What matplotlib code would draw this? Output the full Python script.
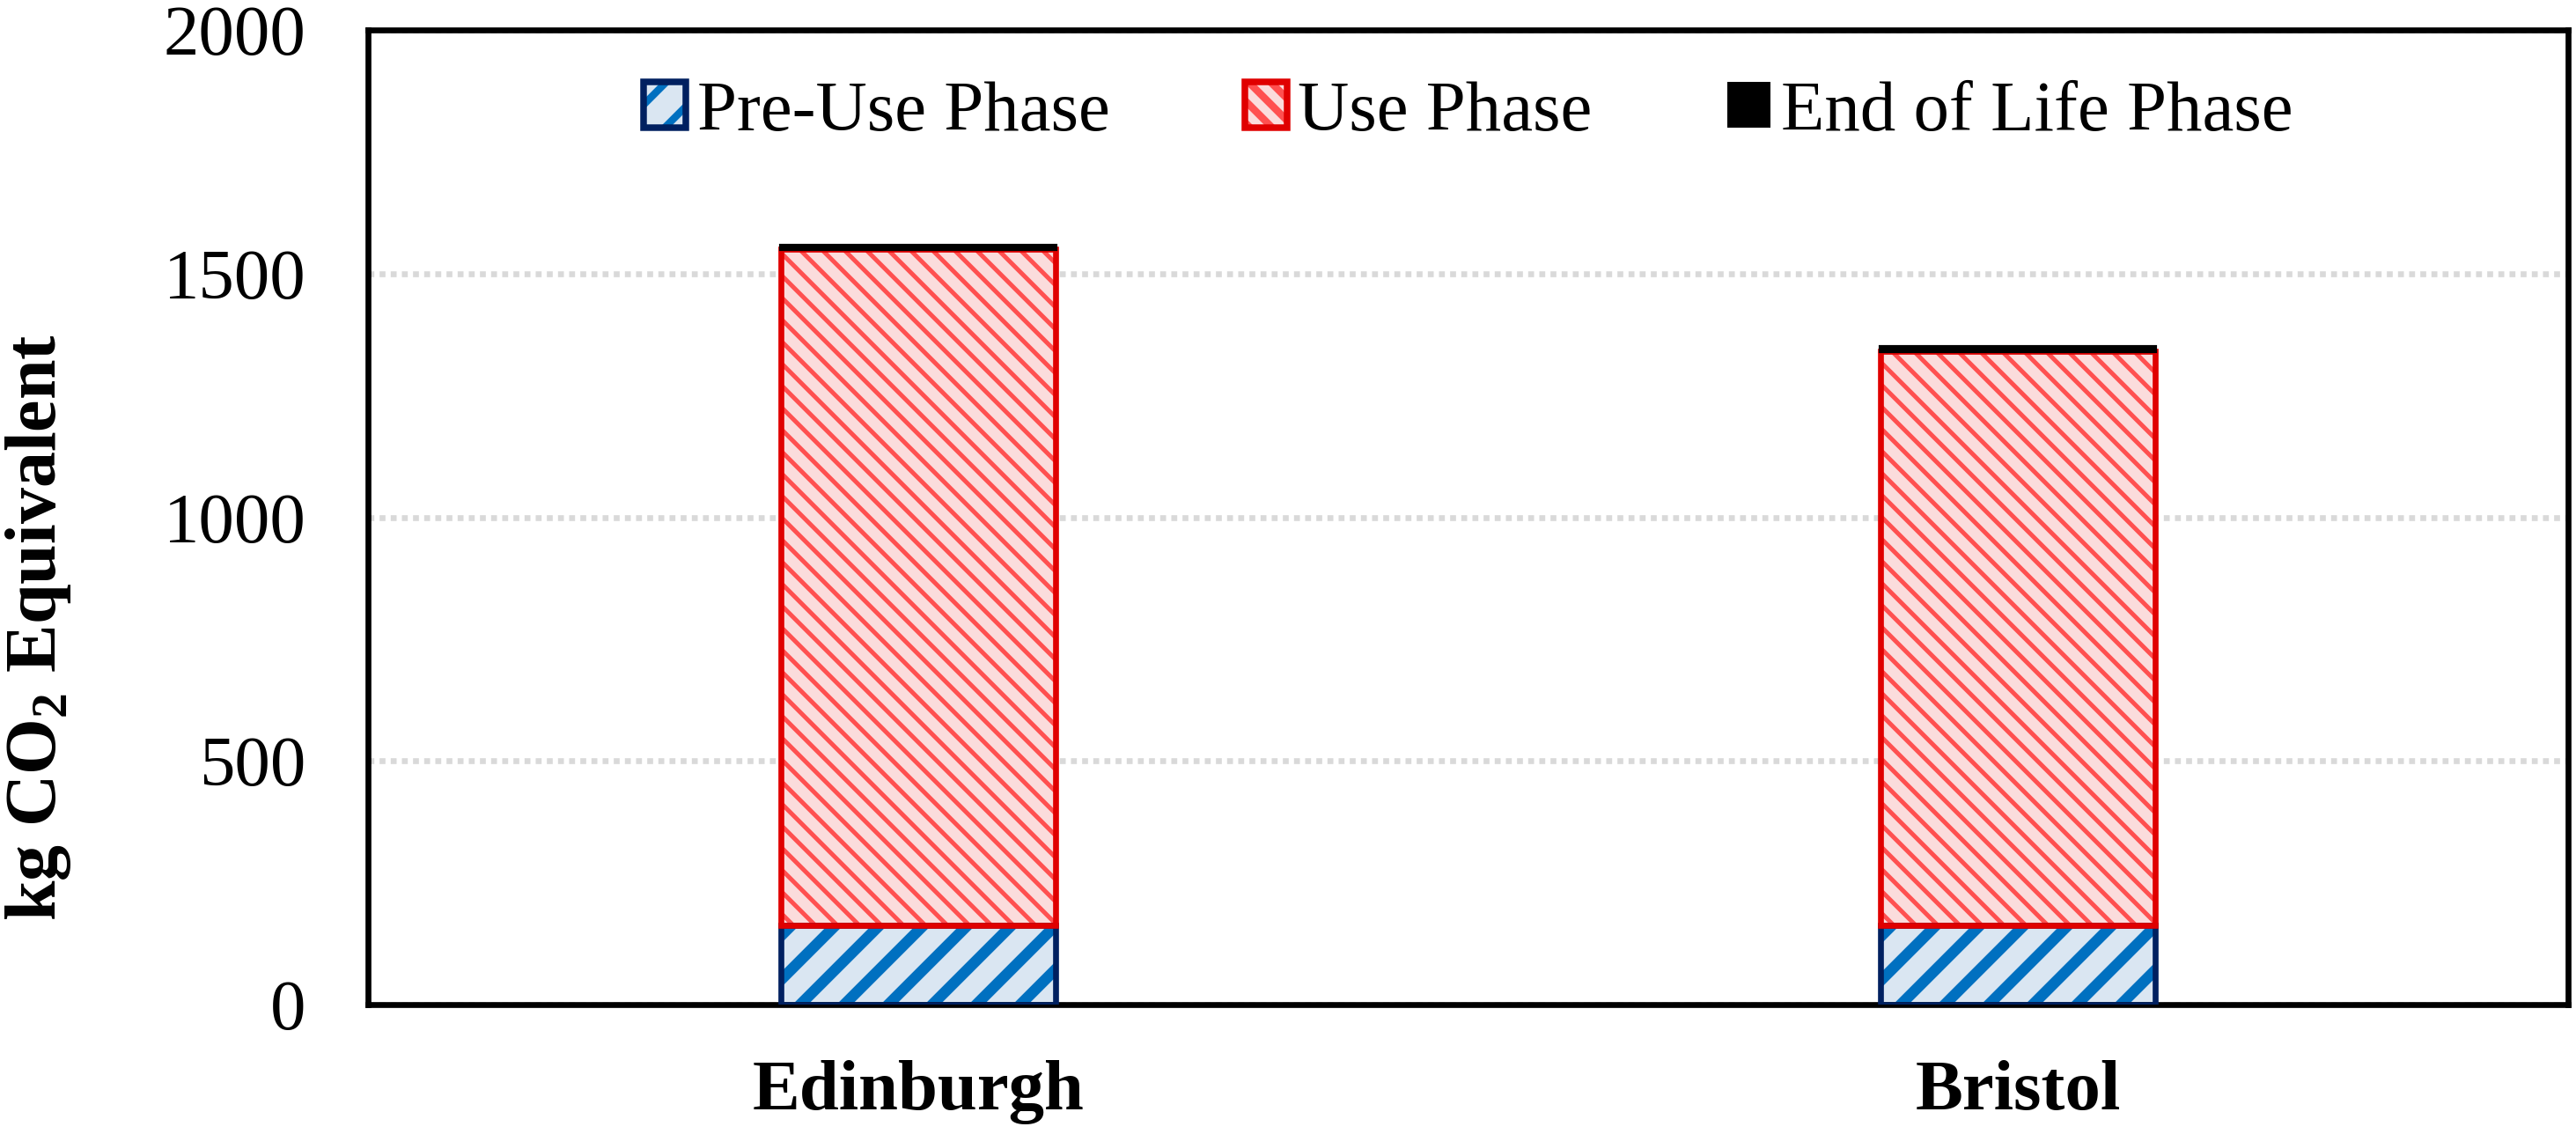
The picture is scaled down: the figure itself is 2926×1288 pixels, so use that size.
import matplotlib
matplotlib.use("Agg")
import matplotlib.pyplot as plt
from matplotlib.patches import Patch
from matplotlib.legend_handler import HandlerTuple

# data
cities = ["Edinburgh", "Bristol"]
pre_use = [163, 163]
use = [1387, 1178]
end_of_life = [8, 8]
yticks = [0, 500, 1000, 1500, 2000]

plt.rcParams['font.family'] = ['Liberation Serif', 'DejaVu Serif']
plt.rcParams['mathtext.fontset'] = 'custom'
plt.rcParams['mathtext.rm'] = 'Liberation Serif'
plt.rcParams['mathtext.bf'] = 'Liberation Serif:bold'

fig = plt.figure(figsize=(2926 / 300, 1288 / 300), dpi=300)
ax = fig.add_axes([0.143, 0.1141, 0.8539, 0.8595])

x = list(range(len(cities)))
w = 0.25
fs = 19.4

def hatched(left, height, bottom, face, hcol, hatch, hlw, edge):
    plt.rcParams['hatch.linewidth'] = hlw
    b = ax.bar(left, height, w, bottom=bottom, color=face, edgecolor=hcol,
               hatch=hatch, linewidth=0, zorder=2)
    for p in b:
        if hasattr(p, 'set_hatch_linewidth'):
            p.set_hatch_linewidth(hlw)
    ax.bar(left, height, w, bottom=bottom, fill=False, edgecolor=edge,
           linewidth=1.6, zorder=3)

hatched(x, pre_use, 0, '#dae6f2', '#0070c0', '//', 3.0, '#002060')
hatched(x, use, pre_use, '#fbdcdc', '#ff5050', '\\\\\\\\', 1.2, '#e00000')
tops = [a + b for a, b in zip(pre_use, use)]
ax.bar(x, end_of_life, w, bottom=tops, color='black', edgecolor='black',
       linewidth=1.0, zorder=4)

ax.set_xlim(-0.5, 1.5)
ax.set_ylim(0, 2000)
ax.set_yticks(yticks)
ax.set_xticks(x)
ax.set_xticklabels(cities, fontweight='bold')
ax.tick_params(axis='y', length=0, pad=17, labelsize=fs)
ax.tick_params(axis='x', length=0, pad=15, labelsize=fs)
for s in ax.spines.values():
    s.set_linewidth(1.6)
    s.set_color('black')
ax.yaxis.grid(True, color='#d9d9d9', linewidth=1.6, linestyle=(0, (1, 0.9)), zorder=0)
ax.set_axisbelow(True)

fig.text(0.0147, 0.4465, r'kg CO$_\mathbf{2}$ Equivalent', rotation=90,
         ha='center', va='center', fontsize=fs + 0.3, fontweight='bold')

# legend handles
plt.rcParams['hatch.linewidth'] = 2.0
h1 = (Patch(facecolor='#dae6f2', edgecolor='#0070c0', hatch='//', linewidth=0),
      Patch(fill=False, edgecolor='#002060', linewidth=1.8))
h2 = (Patch(facecolor='#fbdcdc', edgecolor='#ff5050', hatch='\\\\\\\\', linewidth=0),
      Patch(fill=False, edgecolor='#e00000', linewidth=1.8))
h3 = Patch(facecolor='black', edgecolor='black', linewidth=0)
ax.legend([h1, h2, h3], ['Pre-Use Phase', 'Use Phase', 'End of Life Phase'],
          handler_map={tuple: HandlerTuple(ndivide=1, pad=0)},
          loc='center', bbox_to_anchor=(0.5, 0.915), ncol=3, frameon=False,
          fontsize=fs, handlelength=0.6, handleheight=0.62,
          handletextpad=0.15, columnspacing=1.9)

fig.savefig('out.png', dpi=300)
